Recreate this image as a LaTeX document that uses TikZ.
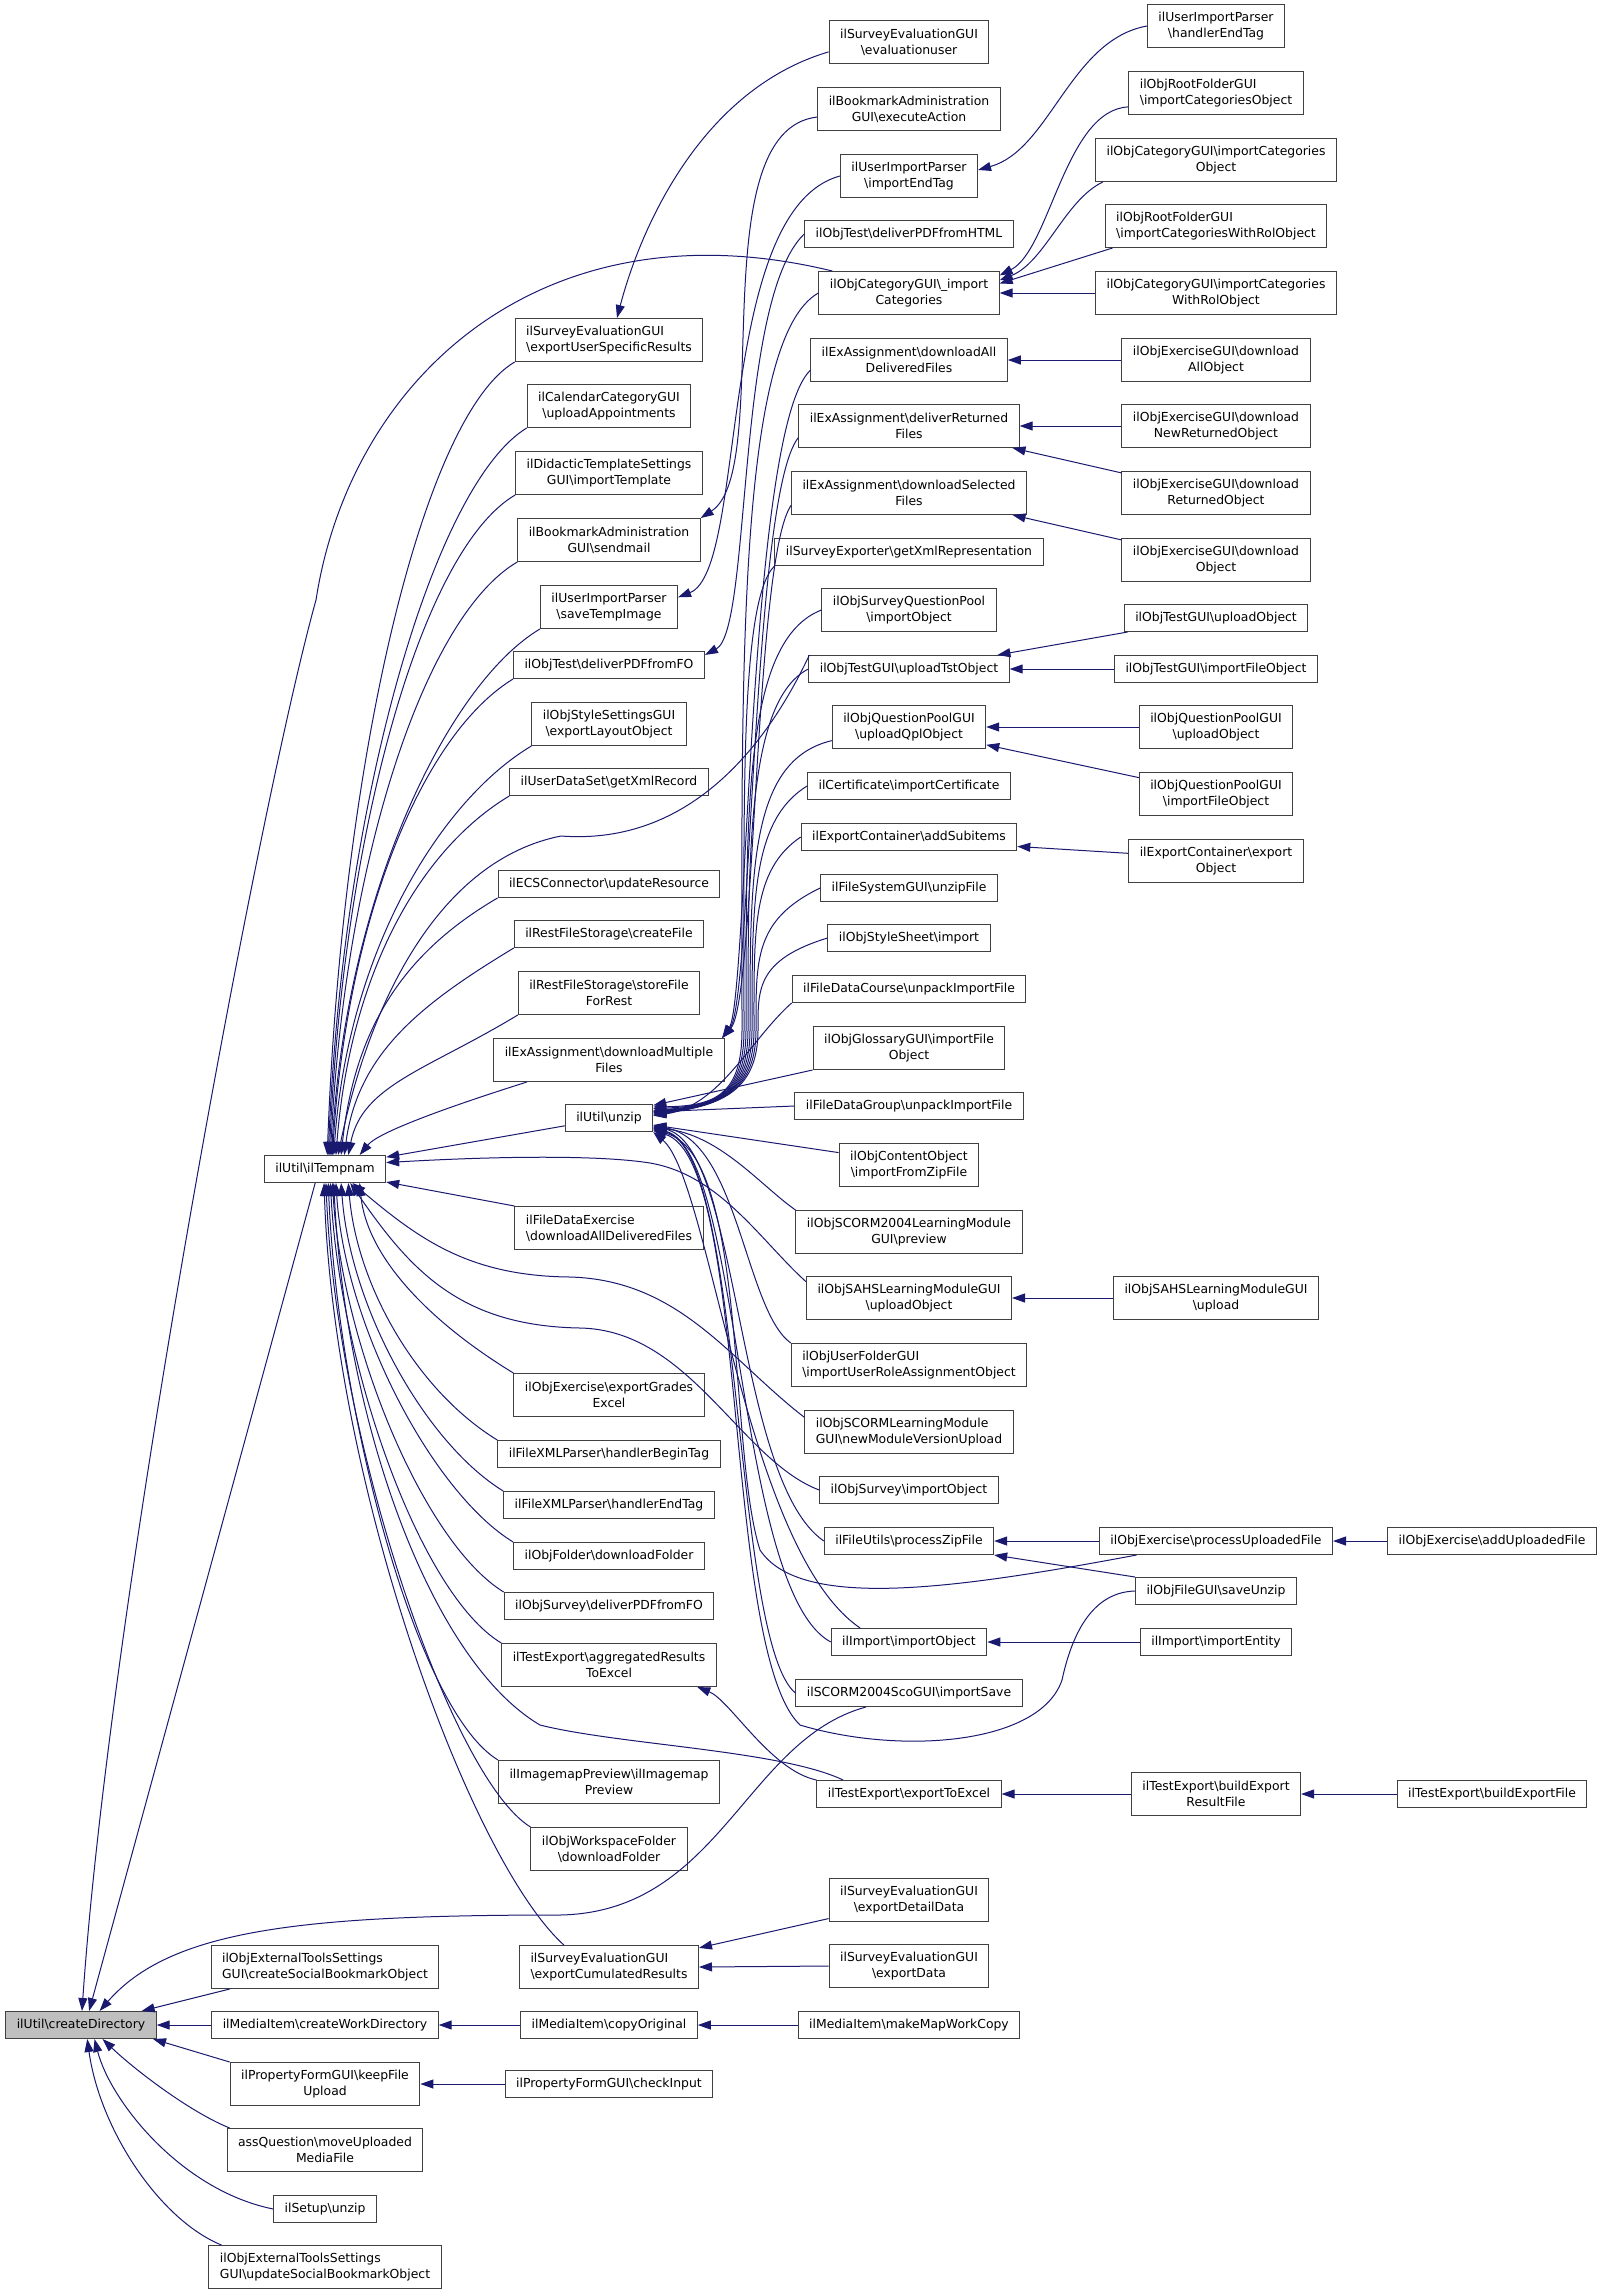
\documentclass[tikz,border=0pt]{standalone}
\usepackage{fontspec}
\setmainfont{DejaVu Sans}
\usepackage{tikz}
\usetikzlibrary{arrows.meta}
\definecolor{edgeblue}{rgb}{0.1, 0.1, 0.44}
\definecolor{boxgray}{rgb}{0.25, 0.25, 0.25}
\definecolor{rootgray}{rgb}{0.75, 0.75, 0.75}
\newcommand{\bksl}{\textbackslash}
\newcommand{\fnsize}{\fontsize{12.4}{16}\selectfont}
\tikzset{fn/.style = {draw=boxgray, fill=white, line width=1pt, inner xsep=11pt, inner ysep=5pt, minimum height=27pt, font=\fnsize}}
\tikzset{fnt/.style = {fn, minimum height=43pt, align=center}}
\tikzset{fnl/.style = {fnt, align=left}}
\tikzset{root/.style = {fn, fill=rootgray}}
\tikzset{call/.style = {draw=edgeblue, line width=1pt, {Triangle[length=13pt, width=9pt]}-}}

\begin{document}
\begin{tikzpicture}[x=1pt, y=-1pt]
    \useasboundingbox (0, 0) rectangle (1603, 2295);
    \fill[white] (0, 0) rectangle (1603, 2295);

    \node[root] (cd) at (81, 2025) {ilUtil\bksl createDirectory};

    \node[fn] (tmp) at (325, 1169) {ilUtil\bksl ilTempnam};
    \node[fnl] (csb) at (325, 1967) {ilObjExternalToolsSettings\\GUI\bksl createSocialBookmarkObject};
    \node[fn] (cwd) at (325, 2025) {ilMediaItem\bksl createWorkDirectory};
    \node[fnt] (kfu) at (325, 2084) {ilPropertyFormGUI\bksl keepFile\\Upload};
    \node[fnt] (mum) at (325, 2150) {assQuestion\bksl moveUploaded\\MediaFile};
    \node[fn] (sun) at (325, 2209) {ilSetup\bksl unzip};
    \node[fnl] (usb) at (325, 2267) {ilObjExternalToolsSettings\\GUI\bksl updateSocialBookmarkObject};

    \node[fnl] (eusr) at (609, 340) {ilSurveyEvaluationGUI\\\bksl exportUserSpecificResults};
    \node[fnt] (upapp) at (609, 406) {ilCalendarCategoryGUI\\\bksl uploadAppointments};
    \node[fnt] (imptpl) at (609, 473) {ilDidacticTemplateSettings\\GUI\bksl importTemplate};
    \node[fnt] (sendm) at (609, 540) {ilBookmarkAdministration\\GUI\bksl sendmail};
    \node[fnt] (stimg) at (609, 607) {ilUserImportParser\\\bksl saveTempImage};
    \node[fn] (pdffo) at (609, 665) {ilObjTest\bksl deliverPDFfromFO};
    \node[fnt] (explay) at (609, 724) {ilObjStyleSettingsGUI\\\bksl exportLayoutObject};
    \node[fn] (xmlrec) at (609, 782) {ilUserDataSet\bksl getXmlRecord};
    \node[fn] (ecs) at (609, 884) {ilECSConnector\bksl updateResource};
    \node[fn] (rfcreate) at (609, 934) {ilRestFileStorage\bksl createFile};
    \node[fnt] (rfstore) at (609, 993) {ilRestFileStorage\bksl storeFile\\ForRest};
    \node[fnt] (dlmult) at (609, 1060) {ilExAssignment\bksl downloadMultiple\\Files};
    \node[fn] (unzip) at (609, 1118) {ilUtil\bksl unzip};
    \node[fnl] (fdex) at (609, 1228) {ilFileDataExercise\\\bksl downloadAllDeliveredFiles};
    \node[fnt] (grades) at (609, 1395) {ilObjExercise\bksl exportGrades\\Excel};
    \node[fn] (hbegin) at (609, 1454) {ilFileXMLParser\bksl handlerBeginTag};
    \node[fn] (hend) at (609, 1505) {ilFileXMLParser\bksl handlerEndTag};
    \node[fn] (dlfold) at (609, 1556) {ilObjFolder\bksl downloadFolder};
    \node[fn] (svpdf) at (609, 1606) {ilObjSurvey\bksl deliverPDFfromFO};
    \node[fnt] (aggr) at (609, 1665) {ilTestExport\bksl aggregatedResults\\ToExcel};
    \node[fnt] (imgmap) at (609, 1782) {ilImagemapPreview\bksl ilImagemap\\Preview};
    \node[fnt] (wsfold) at (609, 1849) {ilObjWorkspaceFolder\\\bksl downloadFolder};
    \node[fnl] (cumres) at (609, 1967) {ilSurveyEvaluationGUI\\\bksl exportCumulatedResults};
    \node[fn] (copyorig) at (609, 2025) {ilMediaItem\bksl copyOriginal};
    \node[fn] (chkin) at (609, 2084) {ilPropertyFormGUI\bksl checkInput};

    \node[fnt] (evuser) at (909, 42) {ilSurveyEvaluationGUI\\\bksl evaluationuser};
    \node[fnt] (execact) at (909, 109) {ilBookmarkAdministration\\GUI\bksl executeAction};
    \node[fnt] (impend) at (909, 176) {ilUserImportParser\\\bksl importEndTag};
    \node[fn] (pdfhtml) at (909, 234) {ilObjTest\bksl deliverPDFfromHTML};
    \node[fnt] (impcat) at (909, 293) {ilObjCategoryGUI\bksl\_import\\Categories};
    \node[fnt] (dlall) at (909, 360) {ilExAssignment\bksl downloadAll\\DeliveredFiles};
    \node[fnt] (delret) at (909, 426) {ilExAssignment\bksl deliverReturned\\Files};
    \node[fnt] (dlsel) at (909, 493) {ilExAssignment\bksl downloadSelected\\Files};
    \node[fn] (xmlrep) at (909, 552) {ilSurveyExporter\bksl getXmlRepresentation};
    \node[fnt] (sqpimp) at (909, 610) {ilObjSurveyQuestionPool\\\bksl importObject};
    \node[fn] (uptst) at (909, 669) {ilObjTestGUI\bksl uploadTstObject};
    \node[fnt] (upqpl) at (909, 727) {ilObjQuestionPoolGUI\\\bksl uploadQplObject};
    \node[fn] (cert) at (909, 786) {ilCertificate\bksl importCertificate};
    \node[fn] (subitems) at (909, 837) {ilExportContainer\bksl addSubitems};
    \node[fn] (unzipfile) at (909, 888) {ilFileSystemGUI\bksl unzipFile};
    \node[fn] (styimp) at (909, 938) {ilObjStyleSheet\bksl import};
    \node[fn] (fdcourse) at (909, 989) {ilFileDataCourse\bksl unpackImportFile};
    \node[fnt] (glossary) at (909, 1048) {ilObjGlossaryGUI\bksl importFile\\Object};
    \node[fn] (fdgroup) at (909, 1106) {ilFileDataGroup\bksl unpackImportFile};
    \node[fnt] (cobj) at (909, 1165) {ilObjContentObject\\\bksl importFromZipFile};
    \node[fnt] (s2004prev) at (909, 1232) {ilObjSCORM2004LearningModule\\GUI\bksl preview};
    \node[fnt] (sahsup) at (909, 1298) {ilObjSAHSLearningModuleGUI\\\bksl uploadObject};
    \node[fnl] (ufimp) at (909, 1365) {ilObjUserFolderGUI\\\bksl importUserRoleAssignmentObject};
    \node[fnl] (scormup) at (909, 1432) {ilObjSCORMLearningModule\\GUI\bksl newModuleVersionUpload};
    \node[fn] (svimp) at (909, 1490) {ilObjSurvey\bksl importObject};
    \node[fn] (pzip) at (909, 1541) {ilFileUtils\bksl processZipFile};
    \node[fn] (impobj) at (909, 1642) {ilImport\bksl importObject};
    \node[fn] (scosave) at (909, 1693) {ilSCORM2004ScoGUI\bksl importSave};
    \node[fn] (toexcel) at (909, 1794) {ilTestExport\bksl exportToExcel};
    \node[fnt] (detdata) at (909, 1900) {ilSurveyEvaluationGUI\\\bksl exportDetailData};
    \node[fnt] (expdata) at (909, 1966) {ilSurveyEvaluationGUI\\\bksl exportData};
    \node[fn] (mapcopy) at (909, 2025) {ilMediaItem\bksl makeMapWorkCopy};

    \node[fnt] (hend2) at (1216, 26) {ilUserImportParser\\\bksl handlerEndTag};
    \node[fnl] (rfcatobj) at (1216, 93) {ilObjRootFolderGUI\\\bksl importCategoriesObject};
    \node[fnt] (catobj) at (1216, 160) {ilObjCategoryGUI\bksl importCategories\\Object};
    \node[fnl] (rfcatrol) at (1216, 226) {ilObjRootFolderGUI\\\bksl importCategoriesWithRolObject};
    \node[fnt] (catrol) at (1216, 293) {ilObjCategoryGUI\bksl importCategories\\WithRolObject};
    \node[fnt] (dlallobj) at (1216, 360) {ilObjExerciseGUI\bksl download\\AllObject};
    \node[fnt] (dlnewret) at (1216, 426) {ilObjExerciseGUI\bksl download\\NewReturnedObject};
    \node[fnt] (dlret) at (1216, 493) {ilObjExerciseGUI\bksl download\\ReturnedObject};
    \node[fnt] (dlobj) at (1216, 560) {ilObjExerciseGUI\bksl download\\Object};
    \node[fn] (tstup) at (1216, 618) {ilObjTestGUI\bksl uploadObject};
    \node[fn] (tstimp) at (1216, 669) {ilObjTestGUI\bksl importFileObject};
    \node[fnt] (qplup) at (1216, 727) {ilObjQuestionPoolGUI\\\bksl uploadObject};
    \node[fnt] (qplimp) at (1216, 794) {ilObjQuestionPoolGUI\\\bksl importFileObject};
    \node[fnt] (expobj) at (1216, 861) {ilExportContainer\bksl export\\Object};
    \node[fnt] (sahsupl) at (1216, 1298) {ilObjSAHSLearningModuleGUI\\\bksl upload};
    \node[fn] (procup) at (1216, 1541) {ilObjExercise\bksl processUploadedFile};
    \node[fn] (saveunz) at (1216, 1591) {ilObjFileGUI\bksl saveUnzip};
    \node[fn] (impent) at (1216, 1642) {ilImport\bksl importEntity};
    \node[fnt] (bldres) at (1216, 1794) {ilTestExport\bksl buildExport\\ResultFile};

    \node[fn] (addup) at (1492, 1541) {ilObjExercise\bksl addUploadedFile};
    \node[fn] (bldfile) at (1492, 1794) {ilTestExport\bksl buildExportFile};

    \draw[call] (cd.east) -- (cwd.west);
    \draw[call] (cd.13) -- (csb.193);
    \draw[call] (cd.-11) -- (kfu.167);
    \draw[call] (cd.-33) .. controls (135, 2070) and (190, 2112) .. (mum.167);
    \draw[call] (cd.-46) .. controls (110, 2100) and (180, 2190) .. (sun.west);
    \draw[call] (cd.-66) .. controls (100, 2130) and (160, 2220) .. (usb.168);
    \draw[call] (cd.60) -- (tmp.-125);
    \draw[call] (cd.86) .. controls (110, 1600) and (260, 800) .. (316, 600) .. controls (350, 380) and (540, 200) .. (impcat.164);
    \draw[call] (cd.37) .. controls (170, 1930) and (300, 1915) .. (560, 1915) .. controls (720, 1912) and (745, 1740) .. (scosave.198);
    \draw[call] (cwd.east) -- (copyorig.west);
    \draw[call] (copyorig.east) -- (mapcopy.west);
    \draw[call] (kfu.east) -- (chkin.west);
    \draw[call] (cumres.12) -- (detdata.193);
    \draw[call] (cumres.east) -- (expdata.west);

    \draw[call] (tmp.81) .. controls (342, 758) and (423, 416) .. (eusr.south west);
    \draw[call] (tmp.77) .. controls (343, 792) and (436, 483) .. (upapp.south west);
    \draw[call] (tmp.73) .. controls (344, 825) and (423, 549) .. (imptpl.south west);
    \draw[call] (tmp.69) .. controls (345, 858) and (425, 616) .. (sendm.south west);
    \draw[call] (tmp.65) .. controls (346, 892) and (449, 683) .. (stimg.south west);
    \draw[call] (tmp.62) .. controls (347, 917) and (423, 734) .. (pdffo.south west);
    \draw[call] (tmp.58) .. controls (348, 950) and (441, 800) .. (explay.south west);
    \draw[call] (tmp.52) .. controls (350, 976) and (418, 851) .. (xmlrec.south west);
    \draw[call] (tmp.41) .. controls (355, 1026) and (405, 952) .. (ecs.south west);
    \draw[call] (tmp.36) .. controls (358, 1052) and (423, 1003) .. (rfcreate.south west);
    \draw[call] (tmp.31) .. controls (362, 1085) and (427, 1070) .. (rfstore.south west);
    \draw[call] (tmp.22) .. controls (380, 1130) and (470, 1100) .. (dlmult.195);
    \draw[call] (tmp.11) -- (unzip.190);
    \draw[call] (tmp.-12) -- (fdex.north west);
    \draw[call] (tmp.-22) .. controls (367, 1259) and (433, 1324) .. (grades.north west);
    \draw[call] (tmp.-31) .. controls (357, 1286) and (417, 1391) .. (hbegin.north west);
    \draw[call] (tmp.-41) .. controls (350, 1306) and (424, 1442) .. (hend.north west);
    \draw[call] (tmp.-52) .. controls (345, 1326) and (433, 1493) .. (dlfold.north west);
    \draw[call] (tmp.-62) .. controls (342, 1346) and (424, 1543) .. (svpdf.north west);
    \draw[call] (tmp.-69) .. controls (340, 1367) and (420, 1594) .. (aggr.north west);
    \draw[call] (tmp.-77) .. controls (338, 1414) and (417, 1711) .. (imgmap.north west);
    \draw[call] (tmp.-86) .. controls (336, 1440) and (451, 1778) .. (wsfold.north west);
    \draw[call] (tmp.-94) .. controls (334, 1488) and (470, 1860) .. (cumres.154);
    \draw[call] (tmp.6) .. controls (500, 1156) and (600, 1155) .. (650, 1163) .. controls (720, 1175) and (760, 1240) .. (sahsup.171);
    \draw[call] (tmp.-27) .. controls (420, 1240) and (470, 1276) .. (570, 1277) .. controls (680, 1280) and (730, 1360) .. (scormup.172);
    \draw[call] (tmp.-29) .. controls (410, 1270) and (460, 1326) .. (580, 1328) .. controls (690, 1330) and (740, 1460) .. (svimp.west);
    \draw[call] (tmp.47) .. controls (370, 1000) and (440, 860) .. (561, 836) .. controls (680, 845) and (760, 760) .. (uptst.172);
    \draw[call] (tmp.-58) .. controls (345, 1420) and (430, 1660) .. (540, 1725) .. controls (620, 1745) and (780, 1750) .. (toexcel.168);
    \draw[call] (aggr.-14) .. controls (730, 1700) and (770, 1770) .. (toexcel.north west);

    \draw[call] (eusr.70) .. controls (640, 230) and (700, 90) .. (evuser.187);
    \draw[call] (sendm.north east) .. controls (775, 470) and (700, 130) .. (execact.185);
    \draw[call] (stimg.8) .. controls (748, 570) and (715, 210) .. (impend.west);
    \draw[call] (pdffo.6) .. controls (752, 630) and (735, 300) .. (pdfhtml.west);
    \draw[call] (dlmult.11) .. controls (748, 1000) and (748, 430) .. (dlall.186);
    \draw[call] (dlmult.11) .. controls (752, 1000) and (752, 495) .. (delret.186);
    \draw[call] (dlmult.11) .. controls (756, 1000) and (754, 560) .. (dlsel.186);

    \draw[call] (unzip.14) .. controls (715, 1106) and (742, 1095) .. (742, 1030) .. controls (742, 700) and (735, 340) .. (impcat.west);
    \draw[call] (unzip.12) .. controls (715, 1106) and (744, 1095) .. (744, 1030) .. controls (744, 800) and (740, 600) .. (xmlrep.south west);
    \draw[call] (unzip.10) .. controls (715, 1106) and (746, 1095) .. (746, 1030) .. controls (746, 800) and (745, 640) .. (sqpimp.west);
    \draw[call] (unzip.9) .. controls (715, 1106) and (748, 1095) .. (748, 1030) .. controls (748, 850) and (748, 700) .. (uptst.west);
    \draw[call] (unzip.8) .. controls (715, 1106) and (750, 1095) .. (750, 1030) .. controls (750, 870) and (750, 760) .. (upqpl.190);
    \draw[call] (unzip.7) .. controls (715, 1106) and (752, 1095) .. (752, 1030) .. controls (752, 900) and (752, 820) .. (cert.west);
    \draw[call] (unzip.6) .. controls (715, 1106) and (754, 1095) .. (754, 1030) .. controls (754, 930) and (752, 870) .. (subitems.west);
    \draw[call] (unzip.5) .. controls (715, 1106) and (756, 1095) .. (756, 1030) .. controls (756, 960) and (754, 920) .. (unzipfile.west);
    \draw[call] (unzip.4) .. controls (715, 1106) and (758, 1095) .. (758, 1030) .. controls (758, 990) and (756, 960) .. (styimp.west);
    \draw[call] (unzip.3) .. controls (720, 1106) and (750, 1040) .. (fdcourse.south west);
    \draw[call] (unzip.16) -- (glossary.south west);
    \draw[call] (unzip.8) -- (fdgroup.west);
    \draw[call] (unzip.-9) -- (cobj.170);
    \draw[call] (unzip.-12) .. controls (720, 1135) and (760, 1185) .. (s2004prev.north west);
    \draw[call] (unzip.-10) .. controls (738, 1140) and (745, 1310) .. (ufimp.north west);
    \draw[call] (unzip.-11) .. controls (740, 1145) and (735, 1480) .. (pzip.west);
    \draw[call] (unzip.-13) .. controls (742, 1150) and (735, 1590) .. (impobj.west);
    \draw[call] (unzip.-14) .. controls (744, 1150) and (732, 1640) .. (scosave.west);
    \draw[call] (unzip.south east) .. controls (710, 1180) and (745, 1550) .. (impobj.164);
    \draw[call] (unzip.-15) .. controls (748, 1155) and (728, 1450) .. (760, 1550) .. controls (800, 1610) and (950, 1590) .. (procup.190);
    \draw[call] (unzip.-16) .. controls (750, 1160) and (722, 1650) .. (800, 1725) .. controls (900, 1755) and (1040, 1745) .. (1062, 1680) .. controls (1075, 1620) and (1100, 1592) .. (saveunz.west);

    \draw[call] (impend.5) .. controls (1050, 150) and (1070, 40) .. (hend2.west);
    \draw[call] (impcat.11) .. controls (1050, 250) and (1065, 110) .. (rfcatobj.189);
    \draw[call] (impcat.8) .. controls (1045, 262) and (1065, 200) .. (catobj.191);
    \draw[call] (impcat.6) -- (rfcatrol.192);
    \draw[call] (impcat.east) -- (catrol.west);
    \draw[call] (dlall.east) -- (dlallobj.west);
    \draw[call] (delret.east) -- (dlnewret.west);
    \draw[call] (delret.-12) -- (dlret.168);
    \draw[call] (dlsel.-12) -- (dlobj.168);
    \draw[call] (uptst.9) -- (tstup.189);
    \draw[call] (uptst.east) -- (tstimp.west);
    \draw[call] (upqpl.east) -- (qplup.west);
    \draw[call] (upqpl.-13) -- (qplimp.168);
    \draw[call] (subitems.-5) -- (expobj.175);
    \draw[call] (sahsup.east) -- (sahsupl.west);
    \draw[call] (pzip.east) -- (procup.west);
    \draw[call] (procup.east) -- (addup.west);
    \draw[call] (pzip.south east) -- (saveunz.north west);
    \draw[call] (impobj.east) -- (impent.west);
    \draw[call] (toexcel.east) -- (bldres.west);
    \draw[call] (bldres.east) -- (bldfile.west);
\end{tikzpicture}
\end{document}
